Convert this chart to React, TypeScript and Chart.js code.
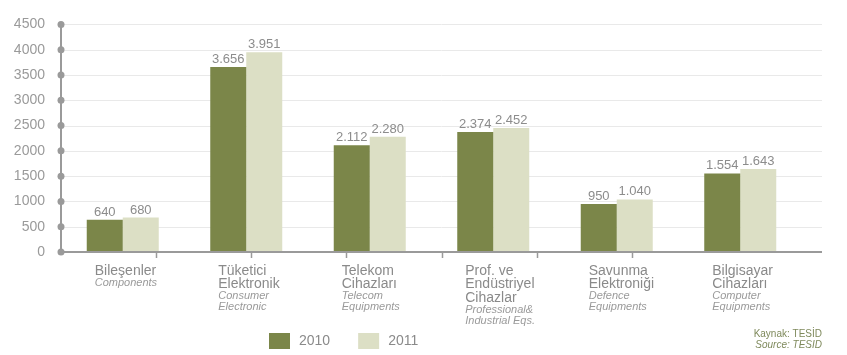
import React, { useEffect, useRef } from "react";
import { Chart, registerables } from "chart.js";

Chart.register(...registerables);

const categoriesTR: string[][] = [
  ["Bileşenler"],
  ["Tüketici", "Elektronik"],
  ["Telekom", "Cihazları"],
  ["Prof. ve", "Endüstriyel", "Cihazlar"],
  ["Savunma", "Elektroniği"],
  ["Bilgisayar", "Cihazları"],
];
const categoriesEN: string[][] = [
  ["Components"],
  ["Consumer", "Electronic"],
  ["Telecom", "Equipments"],
  ["Professional&", "Industrial Eqs."],
  ["Defence", "Equipments"],
  ["Computer", "Equipments"],
];
const seriesLabels = ["2010", "2011"];
const values2010 = [640, 3656, 2112, 2374, 950, 1554];
const values2011 = [680, 3951, 2280, 2452, 1040, 1643];
const yMin = 0;
const yMax = 4500;
const yStep = 500;
const sourceLines = ["Kaynak: TESİD", "Source: TESID"];

const FONT = '"Liberation Sans", Arial, Helvetica, sans-serif';
const DARK = "#7b8649";
const LIGHT = "#dcdfc5";
const AXIS = "#9a9a9a";
const GRID = "#e9e9e9";
const EXTRA_RIGHT = 20;

const fmt = (v: number) => String(v).replace(/\B(?=(\d{3})+(?!\d))/g, ".");

const decorPlugin = {
  id: "decor",
  beforeDatasetsDraw(chart: any) {
    const { ctx, chartArea, scales } = chart;
    const y = scales.y;
    const right = chartArea.right + EXTRA_RIGHT;
    ctx.save();
    // gridlines
    ctx.strokeStyle = GRID;
    ctx.lineWidth = 1;
    y.ticks.forEach((t: any) => {
      if (t.value === yMin) return;
      const py = Math.round(y.getPixelForValue(t.value)) + 0.5;
      ctx.beginPath();
      ctx.moveTo(chartArea.left, py);
      ctx.lineTo(right, py);
      ctx.stroke();
    });
    ctx.restore();
  },
  afterDatasetsDraw(chart: any) {
    const { ctx, chartArea, scales } = chart;
    const y = scales.y;
    const x = scales.x;
    const right = chartArea.right + EXTRA_RIGHT;
    ctx.save();
    // axes
    ctx.strokeStyle = AXIS;
    ctx.lineWidth = 2;
    ctx.beginPath();
    ctx.moveTo(chartArea.left, chartArea.top);
    ctx.lineTo(chartArea.left, chartArea.bottom);
    ctx.moveTo(chartArea.left, chartArea.bottom);
    ctx.lineTo(right, chartArea.bottom);
    ctx.stroke();
    // small decorative tick marks along x axis
    ctx.lineWidth = 1.5;
    const span = (right - chartArea.left) / 8;
    for (let k = 1; k <= 6; k++) {
      const px = Math.round(chartArea.left + k * span) + 0.5;
      ctx.beginPath();
      ctx.moveTo(px, chartArea.bottom);
      ctx.lineTo(px, chartArea.bottom + 6);
      ctx.stroke();
    }
    // dots on y axis
    ctx.fillStyle = AXIS;
    y.ticks.forEach((t: any) => {
      const py = y.getPixelForValue(t.value);
      ctx.beginPath();
      ctx.arc(chartArea.left, py, 3.5, 0, Math.PI * 2);
      ctx.fill();
    });
    // value labels
    ctx.font = `13px ${FONT}`;
    ctx.fillStyle = "#8c8c8c";
    ctx.textAlign = "center";
    ctx.textBaseline = "alphabetic";
    chart.data.datasets.forEach((ds: any, di: number) => {
      const meta = chart.getDatasetMeta(di);
      meta.data.forEach((el: any, i: number) => {
        ctx.fillText(fmt(ds.data[i]), el.x, el.y - 4);
      });
    });
    // category labels
    ctx.textAlign = "left";
    categoriesTR.forEach((lines, i) => {
      const cx = x.getPixelForValue(i) - 28;
      let by = chartArea.bottom + 23;
      ctx.font = `14px ${FONT}`;
      ctx.fillStyle = "#8a8a8a";
      lines.forEach((ln, j) => {
        if (j > 0) by += 13.3;
        ctx.fillText(ln, cx, by);
      });
      ctx.font = `italic 11px ${FONT}`;
      ctx.fillStyle = "#9a9a9a";
      categoriesEN[i].forEach((ln) => {
        by += 11;
        ctx.fillText(ln, cx, by);
      });
    });
    // legend
    ctx.font = `14px ${FONT}`;
    ctx.textBaseline = "middle";
    let lx = chartArea.left + 208;
    const ly = chartArea.bottom + 81;
    chart.data.datasets.forEach((ds: any) => {
      ctx.fillStyle = ds.backgroundColor;
      ctx.fillRect(lx, ly, 21, 16);
      ctx.fillStyle = "#8a8a8a";
      const tx = lx + 21 + 9;
      ctx.fillText(ds.label, tx, ly + 8.5);
      lx = tx + ctx.measureText(ds.label).width + 28;
    });
    // source
    ctx.textAlign = "right";
    ctx.textBaseline = "alphabetic";
    ctx.fillStyle = "#7f8a5c";
    ctx.font = `10px ${FONT}`;
    ctx.fillText(sourceLines[0], right, chartArea.bottom + 85);
    ctx.font = `italic 10px ${FONT}`;
    ctx.fillText(sourceLines[1], right, chartArea.bottom + 96);
    ctx.restore();
  },
};

export default function App() {
  const ref = useRef<HTMLCanvasElement | null>(null);
  useEffect(() => {
    if (!ref.current) return;
    const chart = new Chart(ref.current, {
      type: "bar",
      data: {
        labels: categoriesTR.map((l) => l.join(" ")),
        datasets: [
          { label: seriesLabels[0], data: values2010, backgroundColor: DARK, borderWidth: 0 },
          { label: seriesLabels[1], data: values2011, backgroundColor: LIGHT, borderWidth: 0 },
        ],
      },
      options: {
        animation: false,
        responsive: true,
        maintainAspectRatio: false,
        layout: { padding: { left: 0, right: 45, top: 15, bottom: 103 } },
        datasets: { bar: { barPercentage: 1, categoryPercentage: 0.583 } },
        plugins: { legend: { display: false }, tooltip: { enabled: false } },
        scales: {
          x: {
            grid: { display: false, drawTicks: false },
            border: { display: false },
            ticks: { display: false },
            afterFit: (s: any) => {
              s.height = 0;
            },
          },
          y: {
            min: yMin,
            max: yMax,
            grid: { display: false, drawTicks: false },
            border: { display: false },
            ticks: {
              stepSize: yStep,
              padding: 16,
              color: "#9a9a9a",
              font: { family: FONT, size: 14 },
              callback: (v: any) => String(v),
            },
            afterFit: (s: any) => {
              s.width = 61;
            },
          },
        },
      },
      plugins: [decorPlugin],
    });
    return () => chart.destroy();
  }, []);
  return (
    <div style={{ position: "absolute", left: 0, top: 0, width: 847, height: 355 }}>
      <canvas ref={ref} />
    </div>
  );
}
